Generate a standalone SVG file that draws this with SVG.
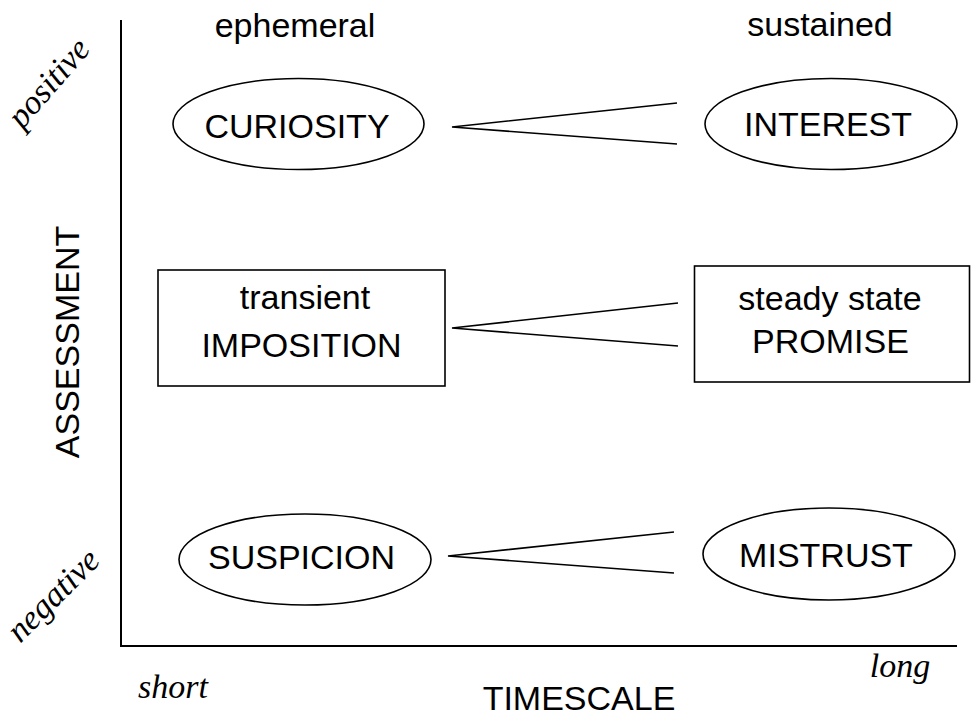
<svg xmlns="http://www.w3.org/2000/svg" width="971" height="717" viewBox="0 0 971 717">
  <style>
    .shape { fill: none; stroke: #000; stroke-width: 1.6; }
    .axis { fill: none; stroke: #000; stroke-width: 2; }
    .link { fill: none; stroke: #000; stroke-width: 1.6; }
    .sans { font-family: "Liberation Sans", Arial, sans-serif; font-size: 34px; fill: #000; text-anchor: middle; }
    .serif { font-family: "Liberation Serif", "Times New Roman", serif; font-style: italic; font-size: 34px; fill: #000; text-anchor: middle; }
  </style>
  <rect width="971" height="717" fill="#fff"/>

  <!-- axes -->
  <g id="axes">
    <polyline class="axis" points="121,20 121,646 957,646"/>
    <text class="sans" transform="translate(79,342) rotate(-90)">ASSESSMENT</text>
    <text class="sans" x="579" y="710">TIMESCALE</text>
    <text class="serif" transform="translate(57,90) rotate(-49)">positive</text>
    <text class="serif" transform="translate(61,603) rotate(-45)">negative</text>
    <text class="serif" x="173" y="698">short</text>
    <text class="serif" x="900" y="677">long</text>
    <text class="sans" x="295" y="37">ephemeral</text>
    <text class="sans" x="820" y="36">sustained</text>
  </g>

  <!-- connectors -->
  <g id="connectors">
    <polyline class="link" points="677,103 452,127 677,144"/>
    <polyline class="link" points="678,303 452,328 678,346"/>
    <polyline class="link" points="674,532 448,556 674,573"/>
  </g>

  <g id="curiosity">
    <ellipse class="shape" cx="298.5" cy="124" rx="125.5" ry="45.5"/>
    <text class="sans" x="297" y="138">CURIOSITY</text>
  </g>
  <g id="interest">
    <ellipse class="shape" cx="831" cy="124" rx="126" ry="45.5"/>
    <text class="sans" x="828" y="136">INTEREST</text>
  </g>
  <g id="imposition">
    <rect class="shape" x="158" y="270" width="287" height="116"/>
    <text class="sans" x="305" y="309">transient</text>
    <text class="sans" x="301.5" y="357">IMPOSITION</text>
  </g>
  <g id="promise">
    <rect class="shape" x="694.5" y="266" width="275" height="116"/>
    <text class="sans" x="830" y="310">steady state</text>
    <text class="sans" x="830.5" y="353">PROMISE</text>
  </g>
  <g id="suspicion">
    <ellipse class="shape" cx="305" cy="559.5" rx="126" ry="45.5"/>
    <text class="sans" x="301.5" y="569">SUSPICION</text>
  </g>
  <g id="mistrust">
    <ellipse class="shape" cx="829" cy="554" rx="126" ry="46"/>
    <text class="sans" x="826" y="567">MISTRUST</text>
  </g>
</svg>
